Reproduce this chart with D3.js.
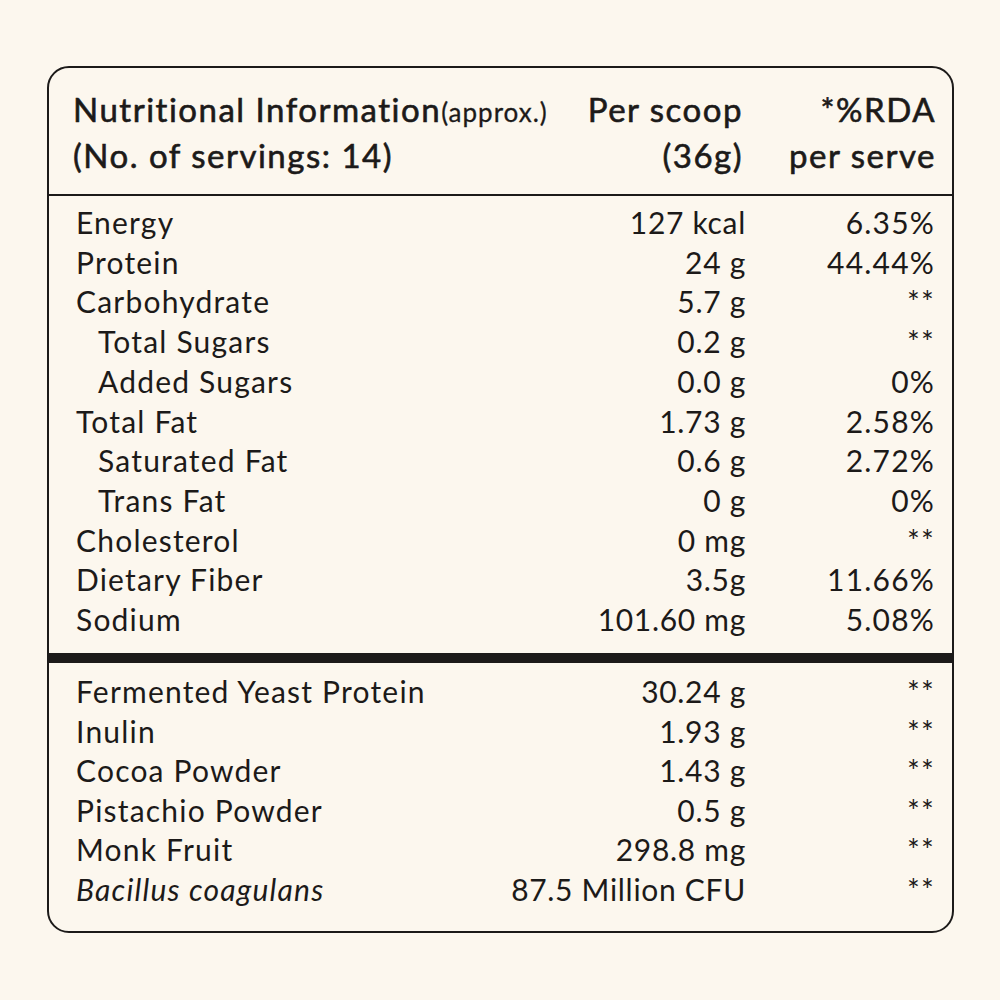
<!DOCTYPE html>
<html>
<head>
<meta charset="utf-8">
<script src="https://cdn.jsdelivr.net/npm/d3@7"></script>
<style>
  html, body { margin: 0; padding: 0; background: #fcf7ee; }
  text { font-family: Lato, "Open Sans", sans-serif; fill: #1c1a19; }
</style>
</head>
<body>
<div id="chart"></div>
<script>
var width = 1000;
var height = 1000;

// header
var headLeft = ["Nutritional Information", "(No. of servings: 14)"];
var headMid = ["Per scoop", "(36g)"];
var headRight = ["*%RDA", "per serve"];

// nutrients block
var nutrients = ["Energy", "Protein", "Carbohydrate", "Total Sugars", "Added Sugars", "Total Fat",
                 "Saturated Fat", "Trans Fat", "Cholesterol", "Dietary Fiber", "Sodium"];
var nutrientSub = [false, false, false, true, true, false, true, true, false, false, false];
var nutrientAmount = ["127 kcal", "24 g", "5.7 g", "0.2 g", "0.0 g", "1.73 g", "0.6 g", "0 g",
                      "0 mg", "3.5g", "101.60 mg"];
var nutrientRda = ["6.35%", "44.44%", "**", "**", "0%", "2.58%", "2.72%", "0%", "**", "11.66%", "5.08%"];

// ingredients block
var ingredients = ["Fermented Yeast Protein", "Inulin", "Cocoa Powder", "Pistachio Powder",
                   "Monk Fruit", "Bacillus coagulans"];
var ingredientAmount = ["30.24 g", "1.93 g", "1.43 g", "0.5 g", "298.8 mg", "87.5 Million CFU"];
var ingredientRda = ["**", "**", "**", "**", "**", "**"];

var svg = d3.select('#chart')
    .append('svg')
    .attr('width', width)
    .attr('height', height);

var box = {x: 48, y: 67, w: 905, h: 865};
var ink = '#1c1a19';

// column anchors (end anchors nudged for trailing letter-spacing)
var colX = d3.scaleOrdinal()
    .domain(['label', 'sub', 'amount', 'rda'])
    .range([76, 98, 746, 935]);

var y1 = d3.scaleLinear().domain([0, nutrients.length - 1]).range([234, 631]);
var y2 = d3.scaleLinear().domain([0, ingredients.length - 1]).range([703, 901]);

svg.append('rect')
    .attr('x', box.x).attr('y', box.y)
    .attr('width', box.w).attr('height', box.h)
    .attr('rx', 21)
    .attr('fill', 'none')
    .attr('stroke', ink)
    .attr('stroke-width', 2);

// header divider
svg.append('line')
    .attr('x1', box.x).attr('x2', box.x + box.w)
    .attr('y1', 195).attr('y2', 195)
    .attr('stroke', ink)
    .attr('stroke-width', 2);

// thick divider
svg.append('line')
    .attr('x1', box.x).attr('x2', box.x + box.w)
    .attr('y1', 658).attr('y2', 658)
    .attr('stroke', ink)
    .attr('stroke-width', 10);

var head = svg.append('g').attr('class', 'head')
    .style('font-size', '33px')
    .style('letter-spacing', '1.5px')
    .style('stroke', ink)
    .style('stroke-width', 0.6);

var t0 = head.append('text').attr('x', 73).attr('y', 122);
t0.append('tspan').text(headLeft[0]);
t0.append('tspan').style('font-size', '26px').style('stroke-width', 0.3).style('letter-spacing', '1px').text('(approx.)');
head.append('text').attr('x', 73).attr('y', 168).text(headLeft[1]);

head.selectAll('.hm')
    .data(headMid)
    .enter()
    .append('text')
    .attr('class', 'hm')
    .attr('x', 743)
    .attr('y', (d, i) => i ? 168 : 122)
    .attr('text-anchor', 'end')
    .text(d => d);

head.selectAll('.hr')
    .data(headRight)
    .enter()
    .append('text')
    .attr('class', 'hr')
    .attr('x', 936)
    .attr('y', (d, i) => i ? 168 : 122)
    .attr('text-anchor', 'end')
    .text(d => d);

function rows(g, labels, amounts, rdas, yScale, subs, italicLast) {
    var r = g.selectAll('g.row')
        .data(labels)
        .enter()
        .append('g')
        .attr('class', 'row')
        .attr('transform', (d, i) => 'translate(0,' + yScale(i) + ')');

    r.append('text')
        .attr('x', (d, i) => colX(subs && subs[i] ? 'sub' : 'label'))
        .style('font-style', (d, i) => italicLast && i == labels.length - 1 ? 'italic' : 'normal')
        .text(d => d);

    r.append('text')
        .attr('x', colX('amount'))
        .attr('text-anchor', 'end')
        .style('letter-spacing', '0.7px')
        .text((d, i) => amounts[i]);

    r.append('text')
        .attr('x', colX('rda'))
        .attr('text-anchor', 'end')
        .text((d, i) => rdas[i]);
}

var body = svg.append('g')
    .style('font-size', '30px')
    .style('letter-spacing', '1.2px');
rows(body.append('g'), nutrients, nutrientAmount, nutrientRda, y1, nutrientSub, false);
rows(body.append('g'), ingredients, ingredientAmount, ingredientRda, y2, null, true);
</script>
</body>
</html>
